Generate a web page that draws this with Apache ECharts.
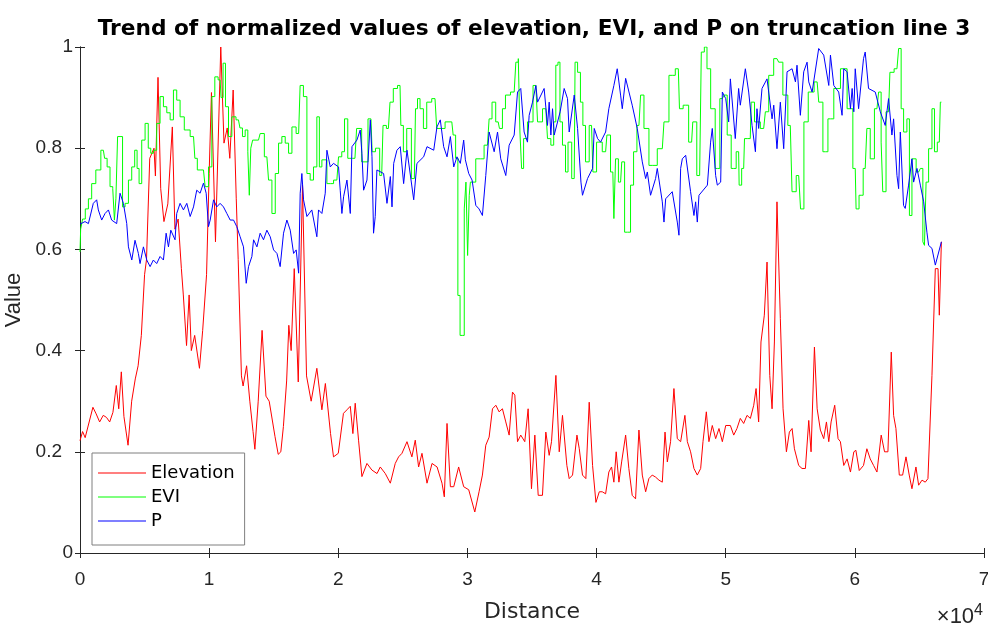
<!DOCTYPE html>
<html>
<head>
<meta charset="utf-8">
<script src="https://cdn.jsdelivr.net/npm/echarts@6/dist/echarts.min.js"></script>
<style>
  html, body { margin: 0; padding: 0; background: #fff; }
  #main { width: 988px; height: 625px; }
</style>
</head>
<body>
<div id="main"></div>
<script>
// 归一化后的高程 [距离(m), 值]
const elevation = [[0,0.222],[200,0.240],[400,0.228],[1000,0.288],[1250,0.275],[1520,0.259],[1800,0.272],[2050,0.268],[2300,0.259],[2550,0.278],[2810,0.331],[3000,0.285],[3200,0.358],[3400,0.270],[3720,0.213],[4000,0.300],[4280,0.344],[4500,0.370],[4750,0.430],[5000,0.550],[5150,0.580],[5400,0.780],[5730,0.800],[5840,0.745],[6040,0.940],[6250,0.720],[6500,0.655],[6800,0.690],[7150,0.842],[7350,0.640],[7600,0.660],[7850,0.562],[8000,0.510],[8250,0.410],[8450,0.510],[8620,0.400],[8880,0.430],[9250,0.365],[9500,0.440],[9800,0.550],[10000,0.750],[10180,0.910],[10490,0.615],[10900,1.000],[11150,0.810],[11400,0.840],[11600,0.780],[11860,0.915],[12100,0.700],[12250,0.580],[12500,0.350],[12630,0.330],[12900,0.370],[13150,0.300],[13400,0.240],[13540,0.205],[13800,0.300],[14100,0.440],[14400,0.310],[14650,0.300],[15100,0.230],[15350,0.195],[15550,0.200],[15750,0.250],[16000,0.340],[16170,0.450],[16350,0.400],[16590,0.562],[16900,0.338],[17230,0.727],[17540,0.350],[17900,0.300],[18340,0.365],[18730,0.283],[19000,0.335],[19400,0.236],[19630,0.190],[20000,0.197],[20400,0.276],[20670,0.283],[20930,0.290],[21130,0.236],[21310,0.296],[21570,0.223],[21830,0.151],[22220,0.177],[22600,0.164],[23000,0.157],[23250,0.170],[23640,0.157],[24030,0.138],[24410,0.177],[24670,0.190],[24930,0.197],[25320,0.220],[25700,0.190],[25960,0.223],[26220,0.170],[26480,0.197],[26870,0.138],[27260,0.177],[27650,0.170],[28030,0.138],[28210,0.111],[28420,0.256],[28680,0.131],[28940,0.131],[29320,0.170],[29710,0.131],[30100,0.125],[30570,0.081],[30900,0.121],[31160,0.154],[31420,0.213],[31680,0.229],[31940,0.285],[32200,0.292],[32450,0.279],[32710,0.285],[32970,0.259],[33230,0.233],[33490,0.318],[33670,0.312],[33880,0.220],[34130,0.233],[34440,0.220],[34700,0.285],[34960,0.127],[35220,0.233],[35480,0.114],[35810,0.114],[36070,0.239],[36330,0.193],[36510,0.220],[36850,0.351],[37110,0.200],[37360,0.272],[37700,0.173],[37880,0.147],[38140,0.154],[38480,0.233],[38660,0.206],[38910,0.154],[39170,0.147],[39430,0.298],[39690,0.173],[39950,0.100],[40210,0.121],[40440,0.121],[40700,0.117],[40950,0.160],[41160,0.170],[41340,0.140],[41520,0.200],[41730,0.140],[41940,0.180],[42250,0.233],[42500,0.167],[42760,0.114],[43020,0.107],[43280,0.243],[43540,0.154],[43800,0.121],[44050,0.147],[44310,0.154],[44570,0.150],[44830,0.144],[45090,0.140],[45300,0.239],[45480,0.180],[45730,0.220],[45990,0.325],[46250,0.226],[46510,0.220],[46840,0.272],[47030,0.220],[47280,0.200],[47540,0.167],[47800,0.154],[48060,0.167],[48240,0.220],[48500,0.279],[48700,0.220],[48960,0.252],[49220,0.226],[49480,0.246],[49740,0.220],[50000,0.252],[50360,0.252],[50620,0.233],[50870,0.246],[51130,0.266],[51390,0.256],[51650,0.272],[51910,0.266],[52170,0.292],[52350,0.325],[52550,0.259],[52730,0.417],[52990,0.470],[53200,0.575],[53410,0.351],[53590,0.285],[53770,0.417],[53970,0.694],[54230,0.463],[54440,0.285],[54700,0.200],[54930,0.239],[55140,0.246],[55320,0.206],[55650,0.173],[55910,0.167],[56170,0.167],[56430,0.262],[56610,0.200],[56870,0.407],[57080,0.285],[57330,0.243],[57590,0.226],[57800,0.259],[57980,0.220],[58160,0.259],[58440,0.292],[58700,0.226],[58880,0.220],[59140,0.173],[59400,0.186],[59660,0.160],[59920,0.200],[60080,0.203],[60340,0.163],[60670,0.173],[60930,0.206],[61190,0.186],[61450,0.173],[61710,0.160],[62040,0.233],[62300,0.200],[62560,0.200],[62820,0.397],[63000,0.272],[63180,0.246],[63440,0.154],[63700,0.154],[63960,0.190],[64210,0.154],[64420,0.127],[64730,0.170],[64940,0.134],[65200,0.144],[65450,0.140],[65660,0.147],[65970,0.351],[66230,0.562],[66440,0.562],[66540,0.470],[66700,0.615]];

// 归一化后的 EVI
const evi = [[0,0.595],[100,0.640],[300,0.660],[520,0.680],[780,0.700],[1030,0.730],[1420,0.757],[1810,0.796],[2000,0.780],[2200,0.763],[2450,0.724],[2620,0.720],[2710,0.658],[2850,0.700],[2970,0.823],[3230,0.823],[3360,0.684],[3620,0.691],[3880,0.737],[4130,0.763],[4340,0.796],[4500,0.760],[4650,0.730],[4910,0.816],[5170,0.849],[5400,0.800],[5560,0.790],[5810,0.796],[6070,0.849],[6330,0.902],[6590,0.882],[6850,0.870],[7110,0.856],[7360,0.915],[7620,0.895],[7880,0.862],[8270,0.836],[8790,0.823],[9000,0.780],[9170,0.757],[9560,0.757],[9820,0.724],[10080,0.763],[10340,0.902],[10540,0.941],[10850,0.935],[11000,0.900],[11160,0.968],[11370,0.882],[11630,0.823],[11890,0.862],[12270,0.856],[12500,0.840],[12660,0.823],[12920,0.836],[13070,0.793],[13150,0.707],[13300,0.800],[13440,0.816],[13820,0.816],[14080,0.829],[14470,0.783],[14730,0.737],[14990,0.671],[15250,0.750],[15500,0.810],[15760,0.823],[16020,0.810],[16280,0.790],[16540,0.842],[16930,0.829],[17160,0.924],[17440,0.902],[17700,0.750],[17950,0.737],[18210,0.763],[18470,0.862],[18600,0.763],[18860,0.777],[19380,0.730],[19890,0.737],[20150,0.783],[20390,0.793],[20570,0.858],[20900,0.780],[21290,0.780],[21550,0.839],[22070,0.773],[22530,0.858],[22710,0.793],[23050,0.800],[23360,0.746],[23570,0.845],[23880,0.839],[24130,0.891],[24390,0.918],[24780,0.924],[24910,0.845],[25170,0.793],[25430,0.839],[25890,0.740],[26070,0.878],[26200,0.898],[26460,0.878],[26720,0.839],[26980,0.891],[27490,0.898],[27750,0.839],[28790,0.852],[29000,0.826],[29170,0.780],[29350,0.509],[29510,0.430],[29690,0.430],[29820,0.680],[29950,0.733],[30080,0.588],[30200,0.707],[30260,0.733],[31030,0.779],[31550,0.806],[31810,0.858],[32000,0.891],[32380,0.852],[32580,0.839],[32840,0.878],[33050,0.905],[33620,0.911],[33880,0.970],[34000,0.977],[34130,0.832],[34260,0.760],[34440,0.819],[34860,0.852],[35300,0.924],[35560,0.852],[36070,0.878],[36330,0.819],[36590,0.806],[36770,0.852],[36920,0.964],[37100,0.970],[37230,0.852],[37490,0.806],[37700,0.753],[37880,0.812],[38270,0.740],[38400,0.970],[38660,0.950],[38840,0.891],[39040,0.845],[39250,0.773],[39610,0.845],[39820,0.753],[40180,0.812],[40700,0.793],[40900,0.826],[41260,0.753],[41420,0.661],[41520,0.779],[41860,0.733],[42040,0.773],[42300,0.634],[42500,0.634],[42760,0.727],[42970,0.793],[43280,0.845],[43540,0.905],[43800,0.839],[44310,0.766],[45090,0.799],[45350,0.852],[45860,0.944],[46330,0.957],[46510,0.878],[46900,0.885],[47360,0.812],[47540,0.852],[47980,0.746],[48240,0.990],[48450,1.000],[48650,0.957],[49020,0.878],[49350,0.760],[49740,0.898],[50000,0.905],[50230,0.826],[50620,0.760],[51000,0.793],[51080,0.727],[51390,0.760],[51520,0.819],[51900,0.819],[52040,0.891],[52420,0.852],[52940,0.839],[53200,0.872],[53460,0.944],[53970,0.977],[54230,0.970],[54620,0.905],[55000,0.845],[55270,0.714],[55650,0.746],[55940,0.680],[56170,0.852],[56610,0.911],[57080,0.931],[57330,0.891],[57720,0.793],[58110,0.858],[58630,0.918],[59140,0.957],[59660,0.878],[60030,0.760],[60160,0.680],[60490,0.707],[60800,0.760],[61060,0.839],[61320,0.779],[61710,0.878],[61970,0.911],[62100,0.812],[62220,0.714],[62610,0.872],[62820,0.950],[63260,0.957],[63520,0.997],[63650,0.878],[63900,0.832],[64160,0.858],[64290,0.667],[64550,0.779],[64940,0.753],[65200,0.760],[65330,0.615],[65450,0.608],[65580,0.733],[65840,0.799],[66100,0.878],[66230,0.793],[66540,0.812],[66700,0.891]];

// 归一化后的 P
const precip = [[0,0.650],[390,0.655],[650,0.651],[1030,0.691],[1290,0.698],[1420,0.678],[1680,0.658],[1940,0.671],[2200,0.678],[2450,0.658],[2840,0.651],[3100,0.711],[3360,0.691],[3620,0.651],[3750,0.605],[4010,0.579],[4260,0.618],[4520,0.592],[4650,0.572],[4910,0.605],[5170,0.579],[5430,0.566],[5680,0.579],[5940,0.572],[6200,0.586],[6460,0.579],[6670,0.632],[6850,0.605],[7030,0.638],[7360,0.619],[7490,0.671],[7750,0.691],[8010,0.678],[8270,0.691],[8530,0.665],[8790,0.684],[9040,0.717],[9300,0.711],[9560,0.731],[9770,0.711],[9950,0.645],[10080,0.658],[10340,0.698],[10590,0.684],[10850,0.691],[11110,0.684],[11370,0.671],[11630,0.658],[11890,0.658],[12140,0.645],[12400,0.625],[12660,0.605],[12870,0.533],[13050,0.566],[13310,0.586],[13440,0.619],[13700,0.605],[13950,0.632],[14210,0.619],[14470,0.638],[14730,0.625],[14990,0.599],[15250,0.592],[15500,0.566],[15760,0.632],[16020,0.658],[16280,0.638],[16540,0.592],[16740,0.599],[16930,0.553],[17050,0.711],[17180,0.750],[17310,0.698],[17570,0.665],[17950,0.678],[18340,0.625],[18470,0.678],[18730,0.671],[18990,0.711],[19120,0.796],[19380,0.763],[19630,0.770],[20020,0.763],[20150,0.717],[20280,0.671],[20410,0.704],[20670,0.737],[20930,0.671],[21060,0.803],[21440,0.816],[21700,0.836],[21830,0.790],[21960,0.717],[22220,0.737],[22480,0.856],[22610,0.783],[22730,0.632],[22860,0.665],[22990,0.757],[23510,0.750],[23770,0.691],[24030,0.744],[24160,0.684],[24290,0.770],[24540,0.796],[24800,0.803],[25060,0.730],[25320,0.796],[25840,0.698],[26090,0.770],[26610,0.783],[26870,0.803],[27390,0.796],[27640,0.842],[27900,0.856],[28160,0.803],[28420,0.783],[28680,0.823],[28940,0.763],[29190,0.783],[29450,0.770],[29710,0.816],[29840,0.777],[30100,0.750],[30360,0.737],[30650,0.687],[30900,0.680],[31160,0.667],[31420,0.746],[31680,0.832],[32070,0.793],[32330,0.832],[32580,0.779],[32970,0.746],[33230,0.806],[33620,0.826],[33880,0.911],[34130,0.918],[34390,0.832],[34650,0.812],[34780,0.865],[35040,0.891],[35300,0.924],[35430,0.891],[35940,0.918],[36200,0.845],[36330,0.891],[36460,0.826],[36590,0.878],[36720,0.826],[37180,0.872],[37490,0.918],[37750,0.898],[37880,0.832],[38270,0.905],[38530,0.839],[38790,0.733],[38910,0.707],[39300,0.740],[39690,0.760],[39820,0.839],[40080,0.819],[40310,0.812],[40700,0.832],[40950,0.878],[41340,0.924],[41600,0.957],[41860,0.905],[41990,0.878],[42250,0.938],[42760,0.885],[43150,0.839],[43540,0.773],[43800,0.740],[43930,0.753],[44180,0.707],[44570,0.740],[44700,0.760],[45090,0.694],[45220,0.654],[45350,0.700],[45860,0.714],[46250,0.654],[46380,0.628],[46510,0.760],[46640,0.779],[46900,0.786],[47280,0.714],[47540,0.667],[47670,0.694],[47800,0.654],[47930,0.707],[48580,0.727],[48830,0.812],[48960,0.839],[49220,0.746],[49350,0.727],[49610,0.733],[49740,0.911],[50000,0.898],[50230,0.852],[50360,0.937],[50740,0.819],[51000,0.918],[51130,0.885],[51520,0.957],[51780,0.911],[52040,0.845],[52300,0.793],[52420,0.878],[52550,0.839],[52810,0.918],[53200,0.937],[53590,0.858],[53720,0.885],[53970,0.799],[54230,0.891],[54490,0.799],[54750,0.951],[55140,0.957],[55400,0.931],[55520,0.964],[55780,0.865],[56040,0.951],[56300,0.970],[56430,0.931],[56690,0.911],[57200,0.997],[57590,0.984],[57980,0.924],[58110,0.984],[58370,0.924],[58750,0.911],[59010,0.865],[59140,0.957],[59400,0.951],[59660,0.878],[59790,0.918],[59920,0.872],[60030,0.957],[60290,0.878],[60670,0.977],[60800,0.990],[61060,0.918],[61580,0.911],[61970,0.872],[62350,0.845],[62610,0.898],[62870,0.826],[63000,0.858],[63260,0.746],[63390,0.720],[63520,0.832],[63770,0.687],[63900,0.681],[64160,0.727],[64420,0.779],[64550,0.733],[64810,0.760],[65070,0.727],[65330,0.694],[65580,0.634],[65710,0.608],[65970,0.602],[66230,0.569],[66700,0.615]];

const seriesNames = ['Elevation', 'EVI', 'P'];
const seriesColors = ['#ff0000', '#00ff00', '#0000ff'];
const xTicks = [0, 1, 2, 3, 4, 5, 6, 7];
const yTicks = [0, 0.2, 0.4, 0.6, 0.8, 1];

const chart = echarts.init(document.getElementById('main'), null, { renderer: 'canvas' });

const font = 'Liberation Sans, Arial, sans-serif';
const wideFont = 'DejaVu Sans, sans-serif';
const ink = '#262626';

const axisCommon = {
    axisLine: { show: true, lineStyle: { color: ink, width: 1 } },
    axisTick: { show: true, inside: true, length: 5, lineStyle: { color: ink } },
    splitLine: { show: false }
};

const option = {
    backgroundColor: '#ffffff',
    animation: false,
    title: {
        text: 'Trend of normalized values of elevation, EVI, and P on truncation line 3',
        left: 529,
        textAlign: 'center',
        top: 13,
        textStyle: { fontFamily: wideFont, fontSize: 21.7, fontWeight: 'bold', color: '#000' }
    },
    grid: { left: 80, right: 4, top: 47, bottom: 72, containLabel: false, outerBoundsMode: 'none' },
    legend: {
        orient: 'vertical',
        left: 92,
        top: 453,
        padding: [8, 10, 12, 6],
        itemGap: 0,
        itemWidth: 48,
        itemHeight: 1,
        icon: 'rect',
        backgroundColor: '#fff',
        borderColor: '#7f7f7f',
        borderWidth: 1,
        borderRadius: 0,
        textStyle: { fontFamily: wideFont, fontSize: 18, color: '#000', lineHeight: 24 },
        data: seriesNames
    },
    xAxis: [
        Object.assign({
            type: 'value', min: 0, max: 70000, interval: 10000, position: 'bottom',
            name: 'Distance', nameLocation: 'middle', nameGap: 48,
            nameTextStyle: { fontFamily: wideFont, fontSize: 22, color: ink },
            axisLabel: {
                fontFamily: font, fontSize: 19, color: ink, margin: 17,
                formatter: v => String(xTicks[Math.round(v / 10000)])
            }
        }, axisCommon),
        Object.assign({
            type: 'value', min: 0, max: 70000, interval: 10000, position: 'top',
            axisLabel: { show: false }
        }, axisCommon)
    ],
    yAxis: [
        Object.assign({
            type: 'value', min: 0, max: 1, interval: 0.2, position: 'left',
            name: 'Value', nameLocation: 'middle', nameGap: 50, nameRotate: 90,
            nameTextStyle: { fontFamily: font, fontSize: 22, color: ink },
            axisLabel: {
                fontFamily: font, fontSize: 19, color: ink, margin: 7,
                formatter: v => {
                    const t = yTicks.find(y => Math.abs(y - v) < 1e-6);
                    if (t === undefined) return '';
                    return (t === 0 || t === 1) ? String(t) : '{d|' + t + '}';
                },
                rich: { d: { fontFamily: font, fontSize: 19, color: ink, padding: [0, 11, 0, 0] } }
            }
        }, axisCommon),
        Object.assign({
            type: 'value', min: 0, max: 1, interval: 0.2, position: 'right',
            axisLabel: { show: false }
        }, axisCommon)
    ],
    graphic: [{
        type: 'text',
        right: 5,
        top: 603,
        style: {
            text: '×10{sup|4}',
            rich: { sup: { fontFamily: font, fontSize: 16, verticalAlign: 'top', padding: [0, 0, 12, 0], fill: ink } },
            fontFamily: font, fontSize: 22, fill: ink
        }
    }],
    series: [
        { name: 'Elevation', type: 'line', data: elevation, color: seriesColors[0] },
        { name: 'EVI', type: 'line', data: evi, color: seriesColors[1], step: 'middle' },
        { name: 'P', type: 'line', data: precip, color: seriesColors[2] }
    ].map(s => Object.assign(s, {
        symbol: 'none',
        lineStyle: { width: 1, color: s.color },
        itemStyle: { color: s.color },
        clip: true
    }))
};

chart.setOption(option);
</script>
</body>
</html>
